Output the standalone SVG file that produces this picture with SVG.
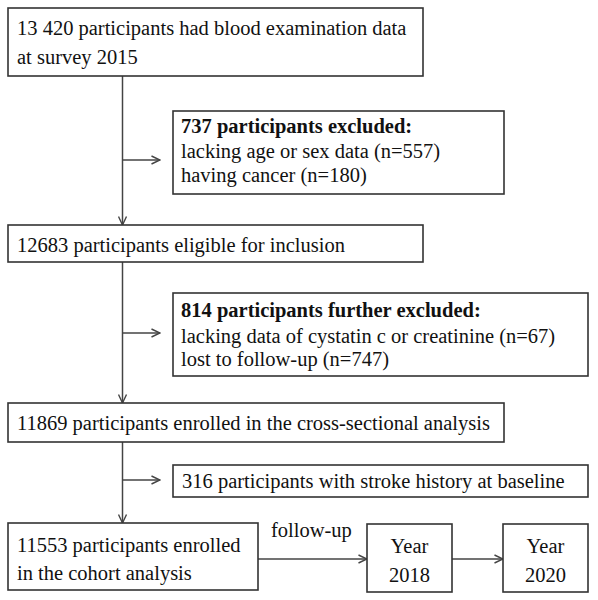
<svg xmlns="http://www.w3.org/2000/svg" width="598" height="600" viewBox="0 0 598 600">
<style>
  .box { fill: #ffffff; stroke: #333333; stroke-width: 1.6; }
  .t { font-family: "Liberation Serif", "Times New Roman", serif; font-size: 20.5px; fill: #111111; }
  .b { font-weight: bold; }
  .c { text-anchor: middle; }
  .conn line { stroke: #444444; stroke-width: 1.5; fill: none; }
</style>
<defs>
  <marker id="arr" viewBox="0 0 10 10" refX="9.5" refY="5" markerWidth="10" markerHeight="10" markerUnits="userSpaceOnUse" orient="auto">
    <path d="M1,1 L9.5,5 L1,9" fill="none" stroke="#444444" stroke-width="1.4"/>
  </marker>
</defs>
<rect width="598" height="600" fill="#ffffff"/>

<g id="connectors" class="conn">
  <line x1="122.5" y1="76" x2="122.5" y2="225" marker-end="url(#arr)"/>
  <line x1="122.5" y1="160" x2="160" y2="160" marker-end="url(#arr)"/>
  <line x1="122.5" y1="262" x2="122.5" y2="403" marker-end="url(#arr)"/>
  <line x1="122.5" y1="333" x2="160" y2="333" marker-end="url(#arr)"/>
  <line x1="122.5" y1="442" x2="122.5" y2="523" marker-end="url(#arr)"/>
  <line x1="122.5" y1="480" x2="160" y2="480" marker-end="url(#arr)"/>
  <line x1="258" y1="559" x2="367" y2="559" marker-end="url(#arr)"/>
  <line x1="452" y1="559" x2="503" y2="559" marker-end="url(#arr)"/>
</g>

<g id="n1">
  <rect class="box" x="8" y="8" width="415" height="68"/>
  <text class="t" x="17" y="35">13 420 participants had blood examination data</text>
  <text class="t" x="17" y="64">at survey 2015</text>
</g>

<g id="n2">
  <rect class="box" x="173" y="111" width="331" height="83"/>
  <text class="t b" x="181" y="133">737 participants excluded:</text>
  <text class="t" x="181" y="158">lacking age or sex data (n=557)</text>
  <text class="t" x="181" y="182">having cancer (n=180)</text>
</g>

<g id="n3">
  <rect class="box" x="8" y="225" width="415" height="37"/>
  <text class="t" x="17" y="252">12683 participants eligible for inclusion</text>
</g>

<g id="n4">
  <rect class="box" x="173" y="293" width="415" height="83"/>
  <text class="t b" x="181" y="317">814 participants further excluded:</text>
  <text class="t" x="181" y="343">lacking data of cystatin c or creatinine (n=67)</text>
  <text class="t" x="181" y="366">lost to follow-up (n=747)</text>
</g>

<g id="n5">
  <rect class="box" x="8" y="403" width="496" height="39"/>
  <text class="t" x="17" y="430">11869 participants enrolled in the cross-sectional analysis</text>
</g>

<g id="n6">
  <rect class="box" x="173" y="465" width="415" height="32"/>
  <text class="t" x="182" y="488">316 participants with stroke history at baseline</text>
</g>

<g id="n7">
  <rect class="box" x="8" y="523" width="250" height="67"/>
  <text class="t" x="17" y="552">11553 participants enrolled</text>
  <text class="t" x="17" y="580">in the cohort analysis</text>
</g>

<g id="label-followup">
  <text class="t" x="271" y="537">follow-up</text>
</g>

<g id="n8">
  <rect class="box" x="367" y="524" width="85" height="68"/>
  <text class="t c" x="409.5" y="553">Year</text>
  <text class="t c" x="409.5" y="582">2018</text>
</g>

<g id="n9">
  <rect class="box" x="503" y="524" width="85" height="68"/>
  <text class="t c" x="545.5" y="553">Year</text>
  <text class="t c" x="545.5" y="582">2020</text>
</g>
</svg>
